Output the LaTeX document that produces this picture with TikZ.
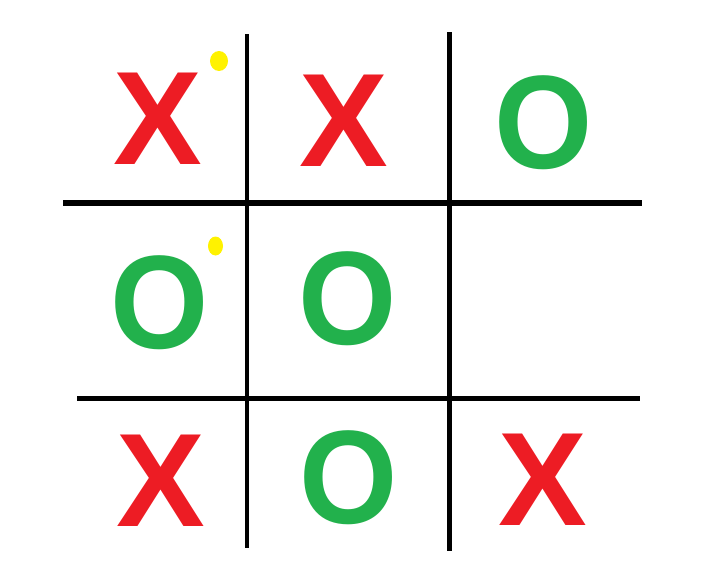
\documentclass[tikz,border=0pt]{standalone}
\usepackage{fontspec}
\setmainfont{Liberation Sans}
\usepackage{tikz}
\definecolor{paintred}{RGB}{237,28,36}
\definecolor{paintgreen}{RGB}{34,177,76}
\definecolor{paintyellow}{RGB}{255,242,0}
\newcommand{\narrowo}{\scalebox{0.95}[1]{O}}

\begin{document}
\begin{tikzpicture}[x=10pt,y=-10pt,
    xsym/.style={text=paintred,font={\fontsize{133}{133}\selectfont\bfseries},inner sep=0pt},
    osym/.style={text=paintgreen,font={\fontsize{133}{133}\selectfont\bfseries},inner sep=0pt}]
    \useasboundingbox (0,0) rectangle (71.4,57.6);
    \draw[line width=4pt] (24.7,3.4) -- (24.7,54.8);
    \draw[line width=5pt] (44.9,3.2) -- (44.9,55.1);
    \draw[line width=6pt] (6.3,20.3) -- (64.2,20.3);
    \draw[line width=5pt] (7.7,39.8) -- (64.0,39.8);
    \node[xsym] (c11) at (15.8,11.85) {X};
    \node[xsym] (c12) at (34.4,12.05) {X};
    \node[osym] (c13) at (54.4,12.3) {\narrowo};
    \node[osym] (c21) at (16.0,30.25) {\narrowo};
    \node[osym] (c22) at (34.8,29.9) {\narrowo};
    \node[xsym] (c31) at (16.1,48.05) {X};
    \node[osym] (c32) at (34.9,47.75) {\narrowo};
    \node[xsym] (c33) at (54.3,47.95) {X};
    \fill[paintyellow] (21.9,6.1) ellipse (0.9 and 1.0);
    \fill[paintyellow] (21.55,24.6) ellipse (0.75 and 0.95);
\end{tikzpicture}
\end{document}
